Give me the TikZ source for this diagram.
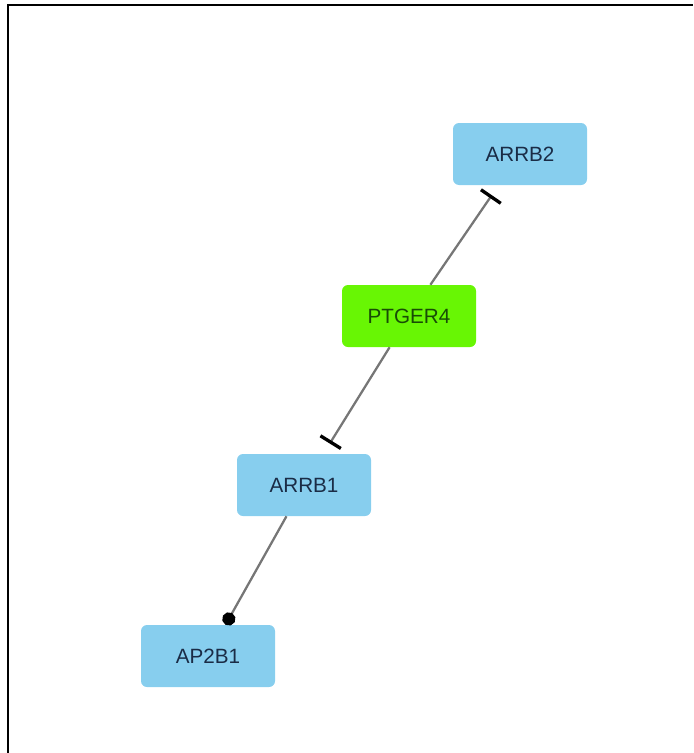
\documentclass[tikz,border=0pt]{standalone}
\usepackage{fontspec}
\setmainfont{Liberation Sans}
\usepackage{tikz}
\usetikzlibrary{arrows.meta}
\definecolor{geneblue}{RGB}{135,206,238}
\definecolor{genegreen}{RGB}{104,246,4}
\definecolor{bluetext}{RGB}{26,44,70}
\definecolor{greentext}{RGB}{24,76,6}
\definecolor{edgegray}{RGB}{118,118,118}
\tikzstyle{gene} = [rectangle, fill=geneblue, text=bluetext, rounded corners=4.5pt,
    minimum width=100.5pt, minimum height=46.5pt, inner sep=0pt,
    font=\fontsize{15.5}{18}\selectfont]
\tikzstyle{seed} = [gene, fill=genegreen, text=greentext]
\tikzstyle{edge} = [draw=edgegray, line width=1.7pt]
\tikzstyle{inhibit} = [edge, -{Bar[width=18pt, line width=2.5pt, color=black]}, shorten >=9pt]
\tikzstyle{bind} = [edge, -{Circle[length=10pt, color=black]}]

\begin{document}
\begin{tikzpicture}[x=0.75pt, y=-0.75pt]
  \useasboundingbox (0,0) rectangle (693,753);
  % frame
  \draw [line width=1.5pt] (8,753) -- (8,5) -- (693,5);
  % nodes
  \node [gene] (arrb2) at (520,154) {ARRB2};
  \node [seed] (ptger4) at (409,316) {PTGER4};
  \node [gene] (arrb1) at (304,485) {ARRB1};
  \node [gene] (ap2b1) at (208,656) {AP2B1};
  % edges
  \path [inhibit] (ptger4) -- (arrb2);
  \path [inhibit] (ptger4) -- (arrb1);
  \path [bind] (arrb1) -- (ap2b1);
\end{tikzpicture}
\end{document}
